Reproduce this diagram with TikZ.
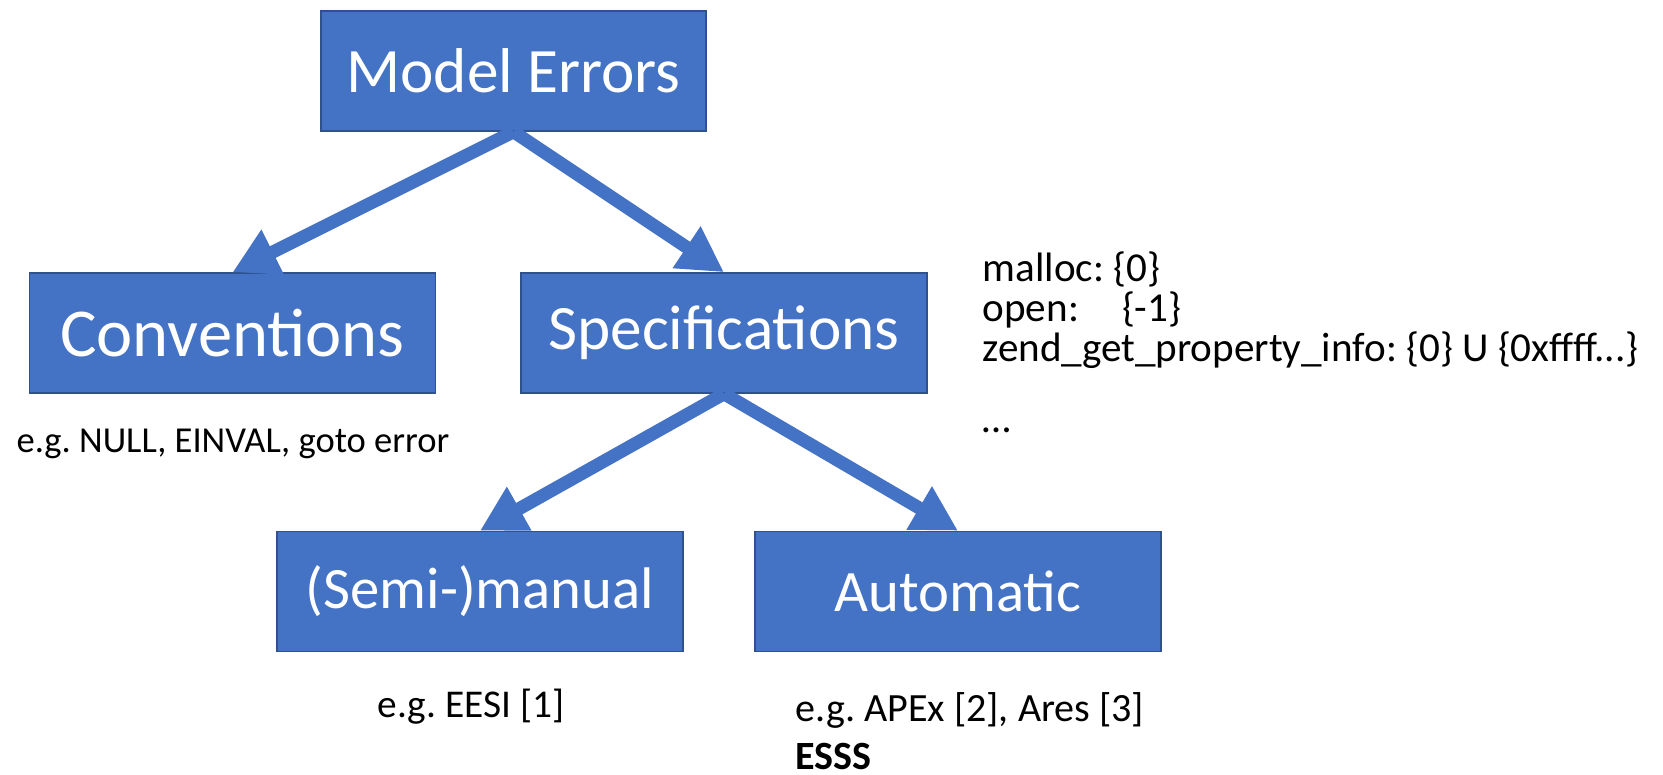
\documentclass[tikz,border=0pt]{standalone}
\usepackage{fontspec}
\setmainfont{Carlito}
\usetikzlibrary{arrows.meta}
\definecolor{boxblue}{HTML}{4472C4}
\definecolor{boxedge}{HTML}{2F528F}
\frenchspacing
\tikzset{
  errbox/.style={draw=boxedge,line width=0.45pt,fill=boxblue,text=white,
    minimum width=4.06cm,minimum height=1.2cm,inner sep=0pt,
    font=\fontsize{#1}{#1}\selectfont},
  note/.style={inner sep=0pt,font=\fontsize{#1}{#1}\selectfont},
  fatarrow/.style={boxblue,line width=3.7pt,-{Triangle[length=12.8pt,width=13.4pt]}}
}
\begin{document}
\begin{tikzpicture}
\useasboundingbox (0,0) rectangle (16.63,7.75);
%\draw[step=0.5cm,gray,very thin] (0,0) grid (16.63,7.75); %background grid
\node[errbox=18,minimum width=3.85cm] (errors) at (5.135,7.04) {Model Errors};
\node[errbox=19.5] (conv) at (2.325,4.42) {Conventions};
\node[errbox=18] (spec) at (7.24,4.42) {Specifications};
\node[errbox=16.7] (semi) at (4.80,1.835) {(Semi-)manual};
\node[errbox=16.7] (auto) at (9.58,1.835) {Automatic};
%---------------------------------------------------
\draw[fatarrow] (errors.south) -- (conv.north);
\draw[fatarrow] (errors.south) -- (spec.north);
\draw[fatarrow] (spec.south) -- (semi.north);
\draw[fatarrow] (spec.south) -- (auto.north);
%---------------------------------------------------
\node[note=10.4,anchor=base] (convex) at (2.33,3.22) {e.g. NULL, EINVAL, goto error};
\node[note=11.2,anchor=base] (semiex) at (4.71,0.57) {e.g. EESI [1]};
\node[note=11.4,anchor=base west] (autoex) at (7.95,0.53) {e.g. APEx [2], Ares [3]};
\node[note=11.4,anchor=base west] (esss) at (7.95,0.05) {\bfseries ESSS};
%---------------------------------------------------
\node[note=11.7,anchor=base west] (malloc) at (9.82,4.93) {malloc: \{0\}};
\node[note=11.7,anchor=base west] (open) at (9.82,4.53) {open:\hspace{0.43cm}\{-1\}};
\node[note=11.7,anchor=base west] (zend) at (9.82,4.13) {zend\_get\_property\_info: \{0\} U \{0xffff...\}};
\node[note=11.7,anchor=base west] (more) at (9.82,3.42) {\ldots};
\end{tikzpicture}
\end{document}
